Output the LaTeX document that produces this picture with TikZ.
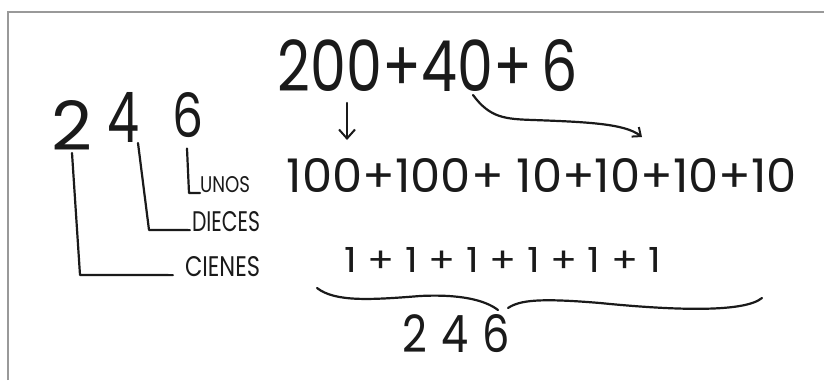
\documentclass[tikz,border=0pt]{standalone}
\usepackage{fontspec}
\setmainfont{Poppins}
\usepackage{graphicx}
\usetikzlibrary{arrows.meta}
\newcommand{\handfit}[3]{\resizebox{#1pt}{#2pt}{#3}}
\definecolor{inkc}{HTML}{1A1A1A}
\definecolor{framec}{HTML}{999999}
\begin{document}
\begin{tikzpicture}[x=1pt,y=-1pt,
  hand/.style={inner sep=0pt, outer sep=0pt, text=inkc},
  ink/.style={line width=2.2pt, draw=inkc, line cap=round, line join=round},
  barb/.style={-{Straight Barb[length=9pt,width=16pt,line width=2pt]}},
  frameline/.style={line width=2pt, draw=framec}]
\useasboundingbox (0,0) rectangle (824,380);
\fill[white] (0,0) rectangle (824,380);
\draw[frameline] (8,380) -- (8,12) -- (824,12);

% left number and place labels
\node[hand] (d2) at (72,125) {\handfit{41}{50}{2}};
\node[hand] (d4) at (124,117) {\handfit{32}{50}{4}};
\node[hand] (d6) at (188,115) {\handfit{31}{45}{6}};

\node[hand, anchor=west] (uno) at (200,185) {\handfit{50}{16}{UNOS}};
\node[hand, anchor=west] (die) at (192,222) {\handfit{68}{20}{DIECES}};
\node[hand, anchor=west] (cie) at (185,267) {\handfit{75}{20}{CIENES}};

\draw[ink] ([yshift=-3pt]d2.south) -- (80,275) -- ([xshift=-12pt,yshift=2pt]cie.south west);
\draw[ink] ([xshift=14pt,yshift=-1pt]d4.south) -- (149,230) -- ([xshift=-2pt,yshift=2pt]die.south west);
\draw[ink] ([xshift=-1pt,yshift=-11pt]d6.south) -- (189,193) -- (uno.south west);

% right side
\node[hand] (r1) at (428,66) {\handfit{300}{52}{200+40+\,6}};
\node[hand] (r2) at (542,175) {\handfit{510}{34}{100+100+\ 10+10+10+10}};
\node[hand] (r3) at (503,260) {\handfit{317}{25}{1 + 1 + 1 + 1 + 1 + 1}};
\node[hand] (r4) at (456,334) {\handfit{108}{38}{2\,\,4\,\,6}};

\coordinate (a1s) at (347,103);
\coordinate (a1e) at (347,140);
\draw[ink,barb] (a1s) -- (a1e);

\coordinate (a2s) at (473,95);
\coordinate (a2e) at (642,137);
\draw[ink,-{Straight Barb[length=7pt,width=12pt,line width=2pt]}] (a2s) .. controls (490,118) and (505,119) .. (533,120)
  .. controls (590,122) and (625,124) .. (a2e);

% brace
\draw[ink] (317,288) .. controls (335,302) and (370,300) .. (420,296)
  .. controls (460,294) and (485,300) .. (498,310);
\draw[ink] (508,308) .. controls (520,300) and (540,298) .. (600,303)
  .. controls (680,311) and (745,312) .. (762,298);
\end{tikzpicture}
\end{document}
